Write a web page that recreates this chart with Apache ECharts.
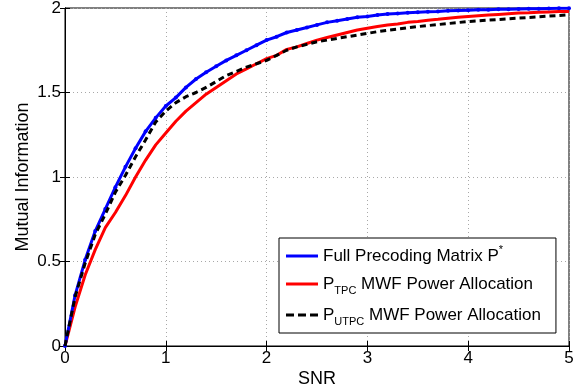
<!DOCTYPE html>
<html><head><meta charset="utf-8">
<script src="https://cdn.jsdelivr.net/npm/echarts@6/dist/echarts.min.js"></script>
<style>html,body{margin:0;padding:0;background:#fff}#c{width:584px;height:389px}</style>
</head><body><div id="c"></div>
<script>
const snr = [0,0.1,0.2,0.3,0.4,0.5,0.6,0.7,0.8,0.9,1.0,1.1,1.2,1.3,1.4,1.5,1.6,1.7,1.8,1.9,2.0,2.1,2.2,2.3,2.4,2.5,2.6,2.7,2.8,2.9,3.0,3.1,3.2,3.3,3.4,3.5,3.6,3.7,3.8,3.9,4.0,4.1,4.2,4.3,4.4,4.5,4.6,4.7,4.8,4.9,5.0];
const fullPrecoding = [0,0.30,0.51,0.68,0.81,0.94,1.06,1.17,1.27,1.35,1.42,1.47,1.53,1.58,1.62,1.655,1.69,1.72,1.75,1.78,1.81,1.83,1.855,1.87,1.885,1.90,1.915,1.925,1.935,1.945,1.95,1.958,1.964,1.968,1.972,1.975,1.978,1.98,1.983,1.985,1.987,1.989,1.99,1.992,1.993,1.994,1.995,1.996,1.997,1.998,1.998];
const tpcMWF = [0,0.23,0.42,0.57,0.70,0.79,0.89,1.0,1.10,1.19,1.26,1.33,1.39,1.44,1.49,1.53,1.57,1.61,1.64,1.67,1.70,1.72,1.755,1.77,1.79,1.81,1.825,1.84,1.855,1.87,1.88,1.89,1.90,1.905,1.915,1.92,1.927,1.933,1.94,1.945,1.95,1.954,1.958,1.962,1.966,1.97,1.972,1.975,1.977,1.979,1.98];
const utpcMWF = [0,0.29,0.49,0.66,0.78,0.91,1.01,1.12,1.22,1.325,1.39,1.44,1.475,1.50,1.53,1.565,1.60,1.625,1.65,1.67,1.69,1.72,1.75,1.77,1.785,1.80,1.81,1.82,1.83,1.84,1.85,1.86,1.868,1.875,1.883,1.89,1.896,1.902,1.908,1.914,1.92,1.924,1.928,1.932,1.936,1.94,1.944,1.948,1.952,1.956,1.96];
const xTicks = [0,1,2,3,4,5];
const yTicks = [0,0.5,1,1.5,2];
const seriesNames = ['Full Precoding Matrix P*','P_TPC MWF Power Allocation','P_UTPC MWF Power Allocation'];

const pair = arr => snr.map((x,i)=>[x,arr[i]]);
const font = 'Liberation Sans, Arial, Helvetica, sans-serif';
const FS = 17;
const chart = echarts.init(document.getElementById('c'), null, {renderer:'canvas'});
const gridLine = {show:true, lineStyle:{color:'#a8a8a8', type:[1,3], width:1}};
const tick = {show:true, inside:true, length:5, lineStyle:{color:'#000'}};
chart.setOption({
  animation:false,
  backgroundColor:'#fff',
  grid:{left:65, right:15, top:8, bottom:43, show:true, borderColor:'#000', borderWidth:1, containLabel:false, outerBoundsMode:'none'},
  xAxis:[{type:'value', min:xTicks[0], max:xTicks[xTicks.length-1], interval:1, name:'SNR', nameLocation:'middle', nameGap:24, nameMoveOverlap:false,
    nameTextStyle:{color:'#000', fontSize:18, fontFamily:font},
    axisLine:{show:true, onZero:false, lineStyle:{color:'#000'}}, axisTick:tick,
    axisLabel:{color:'#000', fontSize:FS, fontFamily:font, margin:4}, splitLine:gridLine},
    {type:'value', position:'top', min:0, max:5, interval:1, axisLine:{show:true, lineStyle:{color:'#000'}}, axisTick:tick, axisLabel:{show:false}, splitLine:{show:false}}],
  yAxis:[{type:'value', min:yTicks[0], max:yTicks[yTicks.length-1], interval:0.5, name:'Mutual Information', nameLocation:'middle', nameGap:33, nameMoveOverlap:false,
    nameTextStyle:{color:'#000', fontSize:18, fontFamily:font},
    axisLine:{show:true, onZero:false, lineStyle:{color:'#000'}}, axisTick:tick,
    axisLabel:{color:'#000', fontSize:FS, fontFamily:font, margin:4, formatter:v=>String(v)}, splitLine:gridLine},
    {type:'value', position:'right', min:0, max:2, interval:0.5, axisLine:{show:true, lineStyle:{color:'#000'}}, axisTick:tick, axisLabel:{show:false}, splitLine:{show:false}}],
  legend:{show:true, orient:'vertical', left:279, top:238, padding:[6,15,6,7], itemGap:8,
    backgroundColor:'#fff', borderColor:'#000', borderWidth:1, borderRadius:0,
    itemWidth:32, itemHeight:3,
    data:[
      {name:seriesNames[0], icon:'rect'},
      {name:seriesNames[1], icon:'rect'},
      {name:seriesNames[2], icon:'path://M0,0H8V3H0Z M12,0H20V3H12Z M24,0H32V3H24Z'}
    ],
    textStyle:{color:'#000', fontSize:FS, fontFamily:font,
      rich:{a:{fontSize:FS, fontFamily:font, color:'#000', verticalAlign:'middle', lineHeight:24},
            sub:{fontSize:11, fontFamily:font, color:'#000', verticalAlign:'bottom', lineHeight:24, padding:[12,0,0,0]},
            sup:{fontSize:11, fontFamily:font, color:'#000', verticalAlign:'top', lineHeight:24, padding:[0,0,10,0]}}},
    formatter:function(name){
      if(name===seriesNames[0]) return '{a|Full Precoding Matrix P}{sup|*}';
      if(name===seriesNames[1]) return '{a|P}{sub|TPC}{a| MWF Power Allocation}';
      return '{a|P}{sub|UTPC}{a| MWF Power Allocation}';
    }},
  series:[
    {name:seriesNames[0], type:'line', data:pair(fullPrecoding), symbol:'circle', symbolSize:4, showSymbol:true,
      itemStyle:{color:'#0000ff'}, lineStyle:{color:'#0000ff', width:3}, z:3},
    {name:seriesNames[1], type:'line', data:pair(tpcMWF), symbol:'none', itemStyle:{color:'#ff0000'},
      lineStyle:{color:'#ff0000', width:3}, z:2},
    {name:seriesNames[2], type:'line', data:pair(utpcMWF), symbol:'none', itemStyle:{color:'#000'},
      lineStyle:{color:'#000', width:3, type:[6,4]}, z:4}
  ]
});
</script></body></html>
